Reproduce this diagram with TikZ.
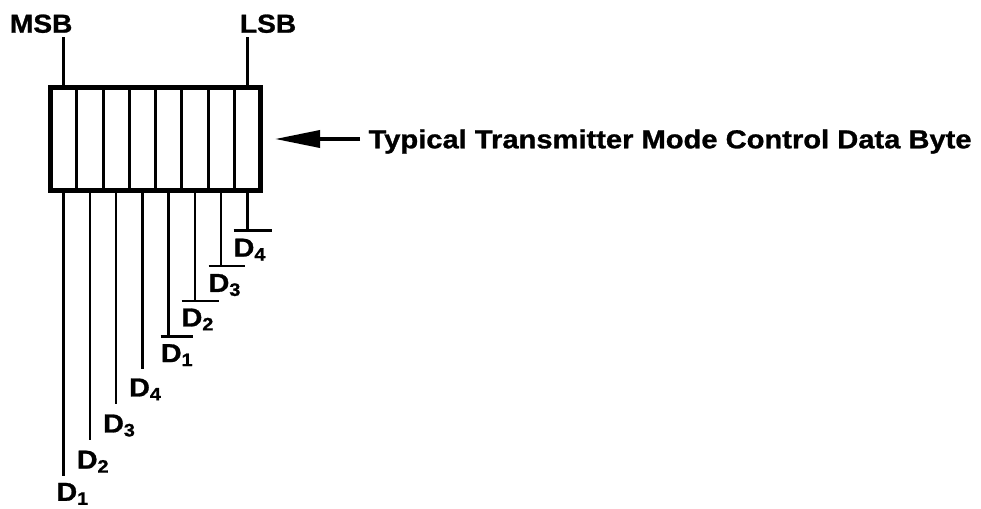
\documentclass[tikz,border=0pt]{standalone}
\usepackage{fontspec}
\usepackage{graphicx}
\setmainfont{Liberation Sans}[BoldFeatures={FakeBold=1.0}]
\usetikzlibrary{arrows.meta}
\newcommand\sbs[1]{\raisebox{-4pt}{\fontsize{18}{18}\selectfont #1}}
\newcommand\xs[2]{\scalebox{#1}[1]{#2}}
\begin{document}
\begin{tikzpicture}[x=1pt,y=-1pt,
  txt/.style={font=\fontsize{26}{30}\selectfont\bfseries, inner sep=0pt},
  lab/.style={txt, anchor=north west, inner xsep=0pt},
  wire/.style={line width=2.6pt},
  barline/.style={line width=2.7pt},
  divider/.style={line width=3pt}]
\useasboundingbox (0,0) rectangle (981,508);
% byte box
\node[draw, line width=5pt, minimum width=210pt, minimum height=103pt,
      inner sep=0pt, outer sep=0pt] (byte) at (155.5,139) {};
\foreach \k in {1,...,7}
  \draw[divider] ([xshift=\k*26.25pt]byte.south west) -- ([xshift=\k*26.25pt]byte.north west);
\foreach \k in {1,...,8}{
  \coordinate (b\k) at ([xshift={(\k-0.5)*26.25pt}]byte.south west);
  \coordinate (t\k) at ([xshift={(\k-0.5)*26.25pt}]byte.north west);
}
% MSB / LSB
\node[txt, anchor=base west, inner ysep=4.3pt] (msb) at (9.8,32.7) {\xs{1.08}{MSB}};
\node[txt, anchor=base west, inner ysep=4.3pt] (lsb) at (239.8,32.7) {\xs{1.08}{LSB}};
\draw[wire] (t1) -- (t1 |- msb.south);
\draw[wire] (t8) -- (t8 |- lsb.south);
% title and arrow
\node[txt, anchor=base west] (title) at (368.4,148.3) {\xs{1.12}{Typical Transmitter Mode Control Data Byte}};
\draw[line width=3.5pt, -{Triangle[length=45pt,width=17pt]}, shorten <=8.4pt, shorten >=14.5pt]
  (byte.east -| title.west) -- (byte.east);
% plain labels
\node[lab, inner ysep=6.7pt]  (d1) at (56.3,476) {\xs{1.1}{D\sbs{1}}};
\node[lab, inner ysep=10.5pt] (d2) at (76.7,440) {\xs{1.1}{D\sbs{2}}};
\node[lab, inner ysep=10.3pt] (d3) at (103,404)  {\xs{1.1}{D\sbs{3}}};
\node[lab, inner ysep=9.3pt]  (d4) at (129,369)  {\xs{1.1}{D\sbs{4}}};
\draw[wire] (b1) -- (b1 |- d1.north);
\draw[wire] (b2) -- (b2 |- d2.north);
\draw[wire] (b3) -- (b3 |- d3.north);
\draw[wire] (b4) -- (b4 |- d4.north);
% barred labels
\node[lab, inner ysep=7.3pt] (e1) at (160.7,336.7) {\xs{1.1}{D\sbs{1}}};
\node[lab, inner ysep=7.3pt] (e2) at (181.5,301)   {\xs{1.1}{D\sbs{2}}};
\node[lab, inner ysep=7.8pt] (e3) at (208.5,266)   {\xs{1.1}{D\sbs{3}}};
\node[lab, inner ysep=8pt]   (e4) at (233.5,230.5) {\xs{1.1}{D\sbs{4}}};
\draw[wire] (b5) -- (b5 |- e1.north);
\draw[wire] (b6) -- (b6 |- e2.north);
\draw[wire] (b7) -- (b7 |- e3.north);
\draw[wire] (b8) -- (b8 |- e4.north);
\draw[barline] (e1.north west) -- ++(32,0);
\draw[barline] (e2.north west) -- ++(37.3,0);
\draw[barline] (e3.north west) -- ++(36.7,0);
\draw[barline] (e4.north west) -- ++(38.4,0);
\end{tikzpicture}
\end{document}
